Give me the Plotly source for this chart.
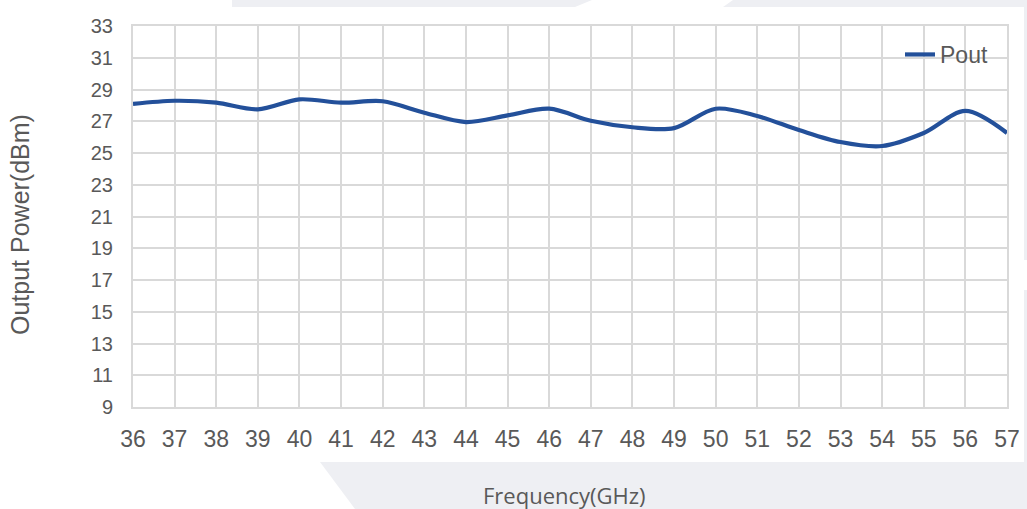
import plotly.graph_objects as go

# ---- data ----
freq_ghz = [36, 37, 38, 39, 40, 41, 42, 43, 44, 45, 46, 47, 48, 49, 50, 51, 52, 53, 54, 55, 56, 57]
pout_dbm = [28.09, 28.29, 28.17, 27.75, 28.38, 28.17, 28.26, 27.54, 26.95, 27.37, 27.79,
            27.03, 26.62, 26.57, 27.79, 27.33, 26.45, 25.69, 25.44, 26.26, 27.65, 26.26]
series_name = "Pout"
x_title = "Frequency(GHz)"
y_title = "Output Power(dBm)"
y_ticks = list(range(9, 34, 2))

W, H = 1027, 509
L, R, T, B = 133, 20, 26, 102
PW, PH = W - L - R, H - T - B


def px(X):
    return (X - L) / PW


def py(Y):
    return (H - B - Y) / PH


fig = go.Figure()
fig.add_trace(go.Scatter(
    x=freq_ghz, y=pout_dbm, name=series_name, mode="lines",
    line=dict(color="#23509a", width=4.2, shape="spline", smoothing=0.9),
))

grid = "#d9d9d9"
tick_font = dict(family="Liberation Sans, Arial, sans-serif", color="#595959")

fig.update_xaxes(
    range=[36, 57], tickmode="array", tickvals=freq_ghz,
    showgrid=True, gridcolor=grid, gridwidth=1.5,
    showline=True, linecolor=grid, linewidth=2, mirror=True,
    zeroline=False, ticks="", ticklabelstandoff=10, automargin=False,
    tickfont=dict(size=23, **tick_font),
)
fig.update_yaxes(
    range=[9, 33], tickmode="array", tickvals=y_ticks,
    showgrid=True, gridcolor=grid, gridwidth=1.5,
    showline=True, linecolor=grid, linewidth=2, mirror=True,
    zeroline=False, ticks="", ticklabelstandoff=14, automargin=False,
    tickfont=dict(size=20, **tick_font),
)

bg = "#eeeff3"
shapes = [
    # faint background panels around the chart box
    dict(type="path", path=f"M {px(320)},{py(462)} L {px(1027)},{py(462)} L {px(1027)},{py(509)} L {px(355)},{py(509)} Z"),
    dict(type="path", path=f"M {px(232)},{py(0)} L {px(592)},{py(0)} L {px(575)},{py(7)} L {px(232)},{py(7)} Z"),
    dict(type="path", path=f"M {px(733)},{py(0)} L {px(1027)},{py(0)} L {px(1027)},{py(7)} L {px(723)},{py(7)} Z"),
    dict(type="rect", x0=px(1024), x1=px(1027), y0=py(7), y1=py(260)),
    dict(type="rect", x0=px(1024), x1=px(1027), y0=py(290), y1=py(462)),
]
for s in shapes:
    s.update(xref="paper", yref="paper", fillcolor=bg, line=dict(width=0), layer="below")

fig.update_layout(
    width=W, height=H,
    margin=dict(l=L, r=R, t=T, b=B, autoexpand=False),
    paper_bgcolor="white", plot_bgcolor="white",
    shapes=shapes,
    showlegend=True,
    legend=dict(
        x=px(900), y=py(33), xanchor="left", yanchor="top",
        bgcolor="rgba(0,0,0,0)",
        font=dict(size=23, family="Liberation Sans, Arial, sans-serif", color="#595959"),
    ),
    annotations=[
        dict(text=y_title, xref="paper", yref="paper", x=px(20), y=py(225),
             showarrow=False, textangle=-90, xanchor="center", yanchor="middle",
             font=dict(size=25, family="Liberation Sans, Arial, sans-serif", color="#595959")),
        dict(text=x_title, xref="paper", yref="paper", x=px(564), y=py(495),
             showarrow=False, xanchor="center", yanchor="middle",
             font=dict(size=22, family="Open Sans, sans-serif", color="#595959")),
    ],
)

fig.write_html(
    "out.html",
    config={"displayModeBar": False},
    post_script="document.body.style.margin='0';document.body.style.overflow='hidden';",
)
